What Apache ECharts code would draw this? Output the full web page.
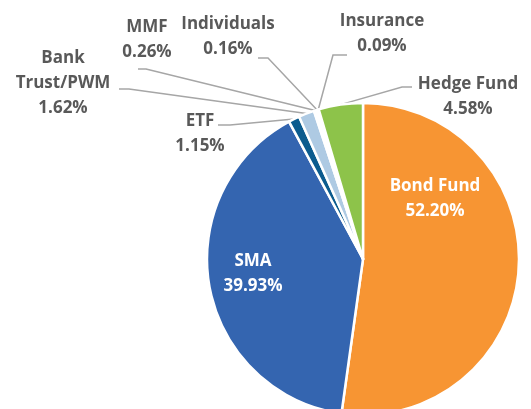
<!DOCTYPE html>
<html>
<head>
<meta charset="utf-8">
<script src="https://cdn.jsdelivr.net/npm/echarts@6/dist/echarts.min.js"></script>
<style>
  html, body { margin: 0; padding: 0; background: #fff; }
  #chart { width: 531px; height: 409px; }
</style>
</head>
<body>
<div id="chart"></div>
<script>
// investor type breakdown
const categories = ["Bond Fund", "SMA", "ETF", "Bank\nTrust/PWM", "MMF", "Individuals", "Insurance", "Hedge Fund"];
const shares = [52.20, 39.93, 1.15, 1.62, 0.26, 0.16, 0.09, 4.58];
const colors = ["#F79533", "#3465B0", "#0B5B8E", "#AECAE3", "#9FB6D6", "#C9D7EA", "#D5E6C0", "#8DC34A"];

// label block centres, and where the leader line meets the text: [dx, dy, elbow]
const labelSpots = [
  [435, 199], [253, 274], [200, 134], [63, 83],
  [147, 40], [228, 37], [382, 34], [468, 97]
];
const lineEnds = [
  null, null, [18, -9, 12], [56, 6, 10],
  [-9, 29, 8], [30, 21, 10], [-35, 21, -14], [-56, -10, -10]
];

const chart = echarts.init(document.getElementById("chart"));

const pieData = categories.map((name, i) => ({
  name: name,
  value: shares[i],
  itemStyle: { color: colors[i] },
  label: i < 2 ? { color: "#fff", position: "inside" } : {},
  labelLine: { show: i >= 2 }
}));

chart.setOption({
  animation: false,
  series: [
    {
      type: "pie",
      center: [363, 259],
      radius: 156,
      startAngle: 90,
      clockwise: true,
      data: pieData,
      itemStyle: { borderColor: "#fff", borderWidth: 2.5 },
      label: {
        show: true,
        position: "outside",
        formatter: (p) => p.name + "\n" + p.value.toFixed(2) + "%",
        fontFamily: "Open Sans",
        fontWeight: "bold",
        fontSize: 17,
        lineHeight: 25,
        color: "#595959",
        align: "center"
      },
      labelLine: {
        show: true,
        length: 10,
        length2: 10,
        lineStyle: { color: "#A6A6A6", width: 1.5 }
      },
      labelLayout: (params) => {
        const i = params.dataIndex;
        const s = labelSpots[i];
        const out = { x: s[0], y: s[1], align: "center", verticalAlign: "middle" };
        const e = lineEnds[i];
        if (e && params.labelLinePoints) {
          const start = params.labelLinePoints[0];
          const end = [s[0] + e[0], s[1] + e[1]];
          const elbow = [end[0] + e[2], end[1]];
          out.labelLinePoints = [start, elbow, end];
        }
        return out;
      }
    }
  ]
});
</script>
</body>
</html>
